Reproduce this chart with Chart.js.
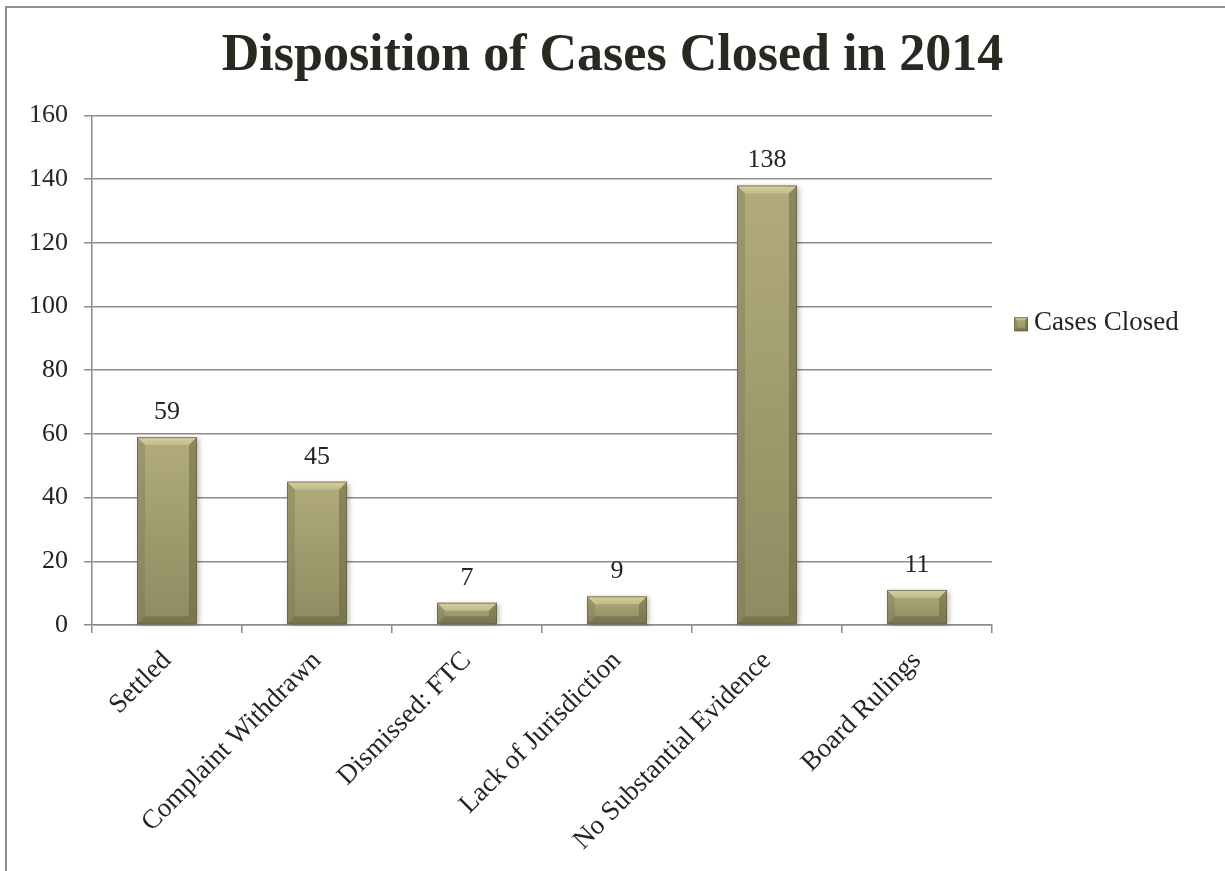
<!DOCTYPE html>
<html>
<head>
<meta charset="utf-8">
<script src="https://cdn.jsdelivr.net/npm/chart.js@4"></script>
<style>
  html, body { margin: 0; padding: 0; background: #fff; overflow: hidden; }
  #wrap { position: relative; width: 1225px; height: 871px; }
  #frame { position: absolute; left: 5px; top: 6px; width: 1400px; height: 1000px;
           border-left: 2px solid #8f8f8f; border-top: 2px solid #8f8f8f; pointer-events: none; }
  canvas { position: absolute; left: 0; top: 0; }
</style>
</head>
<body>
<div id="wrap">
  <canvas id="c" width="1225" height="871"></canvas>
  <div id="frame"></div>
</div>
<script>
const chartTitle = 'Disposition of Cases Closed in 2014';
const categories = ['Settled', 'Complaint Withdrawn', 'Dismissed: FTC', 'Lack of Jurisdiction', 'No Substantial Evidence', 'Board Rulings'];
const seriesLabel = 'Cases Closed';
const casesClosed = [59, 45, 7, 9, 138, 11];
const yMin = 0;
const yMax = 160;
const yStep = 20;

const SERIF = '"Liberation Serif", "DejaVu Serif", serif';
const TEXT = '#262420';
const GRID = '#8c8c8c';

function bevelRect(ctx, left, top, right, bottom, bev, shadow) {
  const b = Math.max(0, Math.min(bev, (bottom - top) / 2, (right - left) / 2));
  ctx.save();
  if (shadow) {
    ctx.shadowColor = 'rgba(0,0,0,0.28)';
    ctx.shadowBlur = 5;
    ctx.shadowOffsetX = 2;
    ctx.shadowOffsetY = 1;
  }
  const g = ctx.createLinearGradient(0, top, 0, bottom);
  g.addColorStop(0, '#b1ab7c');
  g.addColorStop(1, '#8f8b61');
  ctx.fillStyle = g;
  ctx.fillRect(left, top, right - left, bottom - top);
  ctx.restore();
  // top bevel
  const tg = ctx.createLinearGradient(0, top, 0, top + b);
  tg.addColorStop(0, '#d6d0a0');
  tg.addColorStop(1, '#c2bc8a');
  ctx.fillStyle = tg;
  ctx.beginPath();
  ctx.moveTo(left, top); ctx.lineTo(right, top); ctx.lineTo(right - b, top + b); ctx.lineTo(left + b, top + b);
  ctx.closePath(); ctx.fill();
  // left bevel
  ctx.fillStyle = 'rgba(120,115,80,0.35)';
  ctx.beginPath();
  ctx.moveTo(left, top); ctx.lineTo(left + b, top + b); ctx.lineTo(left + b, bottom - b); ctx.lineTo(left, bottom);
  ctx.closePath(); ctx.fill();
  // right bevel
  ctx.fillStyle = 'rgba(95,90,60,0.45)';
  ctx.beginPath();
  ctx.moveTo(right, top); ctx.lineTo(right - b, top + b); ctx.lineTo(right - b, bottom - b); ctx.lineTo(right, bottom);
  ctx.closePath(); ctx.fill();
  // bottom bevel
  ctx.fillStyle = 'rgba(90,86,58,0.4)';
  ctx.beginPath();
  ctx.moveTo(left, bottom); ctx.lineTo(left + b, bottom - b); ctx.lineTo(right - b, bottom - b); ctx.lineTo(right, bottom);
  ctx.closePath(); ctx.fill();
  ctx.strokeStyle = 'rgba(100,96,64,0.7)';
  ctx.lineWidth = 1;
  ctx.strokeRect(left + 0.5, top + 0.5, right - left - 1, bottom - top - 1);
}

const bevelBars = {
  id: 'bevelBars',
  afterDatasetsDraw(chart) {
    const ctx = chart.ctx;
    ctx.save();
    chart.getSortedVisibleDatasetMetas().forEach(meta => {
      meta.data.forEach((el, i) => {
        const p = el.getProps(['x', 'y', 'base', 'width'], true);
        const left = p.x - p.width / 2, right = p.x + p.width / 2;
        bevelRect(ctx, left, p.y, right, p.base, 8, true);
        const v = chart.data.datasets[meta.index].data[i];
        ctx.fillStyle = TEXT;
        ctx.font = '26px ' + SERIF;
        ctx.textAlign = 'center';
        ctx.textBaseline = 'middle';
        ctx.fillText(String(v), p.x, p.y - 25);
      });
    });
    ctx.restore();
  }
};

const sideLegend = {
  id: 'sideLegend',
  afterDraw(chart) {
    const ctx = chart.ctx;
    const a = chart.chartArea;
    const cy = (a.top + a.bottom) / 2 - 47;
    const x = a.right + 22;
    ctx.save();
    bevelRect(ctx, x, cy - 6, x + 14, cy + 8, 3, false);
    ctx.fillStyle = TEXT;
    ctx.font = '27px ' + SERIF;
    ctx.textAlign = 'left';
    ctx.textBaseline = 'middle';
    ctx.fillText(chart.data.datasets[0].label, x + 20, cy);
    ctx.restore();
  }
};

new Chart(document.getElementById('c'), {
  type: 'bar',
  data: {
    labels: categories,
    datasets: [{
      label: seriesLabel,
      data: casesClosed,
      backgroundColor: 'rgba(0,0,0,0)',
      borderWidth: 0,
      barPercentage: 0.4,
      categoryPercentage: 1.0
    }]
  },
  options: {
    responsive: false,
    animation: false,
    layout: { padding: { left: 0, right: 0, top: 0, bottom: 0 } },
    plugins: {
      legend: { display: false },
      tooltip: { enabled: false },
      title: {
        display: true,
        text: chartTitle,
        color: '#2a2820',
        font: { family: SERIF, size: 52, weight: 'bold', lineHeight: 1.2 },
        padding: { top: 25, bottom: 28 }
      }
    },
    scales: {
      x: {
        ticks: {
          color: TEXT, font: { family: SERIF, size: 27 },
          maxRotation: 45, minRotation: 45, autoSkip: false, padding: 12
        },
        grid: { drawOnChartArea: false, drawTicks: true, tickLength: 8, color: GRID, lineWidth: 1.5, offset: true },
        border: { color: GRID, width: 1.5 },
        afterFit: s => { s.height = 246; }
      },
      y: {
        min: yMin, max: yMax,
        ticks: { stepSize: yStep, color: TEXT, font: { family: SERIF, size: 26 }, padding: 16 },
        grid: { color: GRID, lineWidth: 1.5, tickLength: 8 },
        border: { color: GRID, width: 1.5 },
        afterFit: s => { s.width = 92; }
      },
      legendSpace: {
        type: 'linear',
        position: 'right',
        display: true,
        min: yMin, max: yMax,
        ticks: { display: false },
        grid: { display: false, drawTicks: false },
        border: { display: false },
        afterFit: s => { s.width = 233; }
      }
    }
  },
  plugins: [bevelBars, sideLegend]
});
</script>
</body>
</html>
